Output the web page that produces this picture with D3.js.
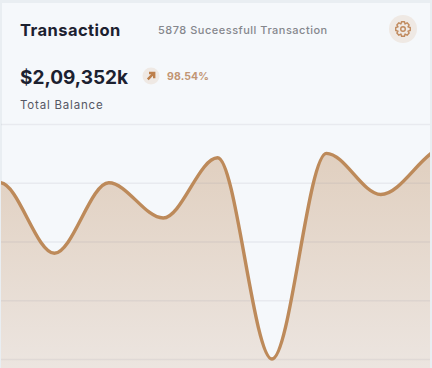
<!DOCTYPE html>
<html>
<head>
<meta charset="utf-8">
<script src="https://cdn.jsdelivr.net/npm/d3@7"></script>
<style>
  html, body { margin: 0; padding: 0; background: #e9eef2; }
  svg { display: block; font-family: Inter, "Open Sans", sans-serif; }
</style>
</head>
<body>
<div id="chart"></div>
<script>
// first and last points sit just off the card, the line runs out past both edges
const categories = ["P0", "P1", "P2", "P3", "P4", "P5", "P6", "P7", "P8", "P9", "P10"];
const values = [100, 120, 72, 120, 96, 137, 0, 140, 112, 142, 156];
const gridTicks = [0, 40, 80, 120, 160];

const width = 432;
const height = 368;

const svg = d3.select("#chart").append("svg")
  .attr("width", width)
  .attr("height", height);

const defs = svg.append("defs");
const grad = defs.append("linearGradient")
  .attr("id", "area-fill").attr("x1", 0).attr("x2", 0).attr("y1", 0).attr("y2", 1);
grad.append("stop").attr("offset", "0%").attr("stop-color", "#dfcdbc");
grad.append("stop").attr("offset", "100%").attr("stop-color", "#ece5e0");

svg.append("rect")
  .attr("x", 2).attr("y", 3)
  .attr("width", 428).attr("height", 365)
  .attr("fill", "#f5f8fb");

const x = d3.scalePoint().domain(categories).range([-54.4, 489.6]);
const y = d3.scaleLinear().domain([0, 160]).range([359, 124]);

const area = d3.area()
  .x((d, i) => x(categories[i]))
  .y0(368)
  .y1(d => y(d))
  .curve(d3.curveMonotoneX);
const line = d3.line()
  .x((d, i) => x(categories[i]))
  .y(d => y(d))
  .curve(d3.curveMonotoneX);

const clip = defs.append("clipPath").attr("id", "card-clip");
clip.append("rect").attr("x", 1).attr("y", 3).attr("width", 429).attr("height", 365);

const plot = svg.append("g").attr("clip-path", "url(#card-clip)");

plot.append("path").datum(values)
  .attr("d", area)
  .attr("fill", "url(#area-fill)");

const grid = plot.append("g")
  .call(d3.axisLeft(y).tickValues(gridTicks).tickSize(-width).tickFormat(""));
grid.select(".domain").remove();
grid.selectAll("line")
  .attr("stroke", "#8a8f99")
  .attr("stroke-opacity", 0.12)
  .attr("stroke-width", 1.5);

plot.append("path").datum(values)
  .attr("d", line)
  .attr("fill", "none")
  .attr("stroke", "#bd8a5a")
  .attr("stroke-width", 3.4);

svg.append("text").attr("x", 20).attr("y", 35.5)
  .attr("font-size", 16.5).attr("font-weight", 700).attr("letter-spacing", 0.45).attr("fill", "#1c2130")
  .text("Transaction");
svg.append("text").attr("x", 158).attr("y", 34)
  .attr("font-size", 11).attr("font-weight", 500).attr("letter-spacing", 0.5).attr("fill", "#85878d")
  .text("5878 Suceessfull Transaction");

svg.append("text").attr("x", 20).attr("y", 84)
  .attr("font-size", 19).attr("font-weight", 700).attr("fill", "#1c2130")
  .text("$2,09,352k");
svg.append("text").attr("x", 167).attr("y", 80)
  .attr("font-size", 10.5).attr("font-weight", 700).attr("letter-spacing", 0.1).attr("fill", "#c29573")
  .text("98.54%");
svg.append("text").attr("x", 20).attr("y", 109)
  .attr("font-size", 11.5).attr("font-weight", 400).attr("letter-spacing", 0.8).attr("fill", "#555764")
  .text("Total Balance");

// arrow badge
const badge = svg.append("g").attr("transform", "translate(151,76)");
badge.append("circle").attr("r", 8.5).attr("fill", "#efe9e4");
badge.append("path")
  .attr("d", "M-3.2,3.4L2.6,-2.6M-2,-3H3.2V2.2")
  .attr("fill", "none").attr("stroke", "#bd7f4b").attr("stroke-width", 2.4);

// settings badge
const gear = svg.append("g").attr("transform", "translate(403,29)");
gear.append("circle").attr("r", 14).attr("fill", "#efe9e4");
const teeth = d3.range(8).map(i => i * Math.PI / 4);
const gearPts = teeth.flatMap(a => [
  [7.4 * Math.cos(a - 0.2), 7.4 * Math.sin(a - 0.2)],
  [7.4 * Math.cos(a + 0.2), 7.4 * Math.sin(a + 0.2)],
  [5.4 * Math.cos(a + 0.39), 5.4 * Math.sin(a + 0.39)]
]);
gear.append("path")
  .attr("d", d3.line()(gearPts) + "Z")
  .attr("fill", "none").attr("stroke", "#c08a5e").attr("stroke-width", 1.4).attr("stroke-linejoin", "round");
gear.append("circle").attr("r", 2.3)
  .attr("fill", "none").attr("stroke", "#c08a5e").attr("stroke-width", 1.4);
</script>
</body>
</html>
